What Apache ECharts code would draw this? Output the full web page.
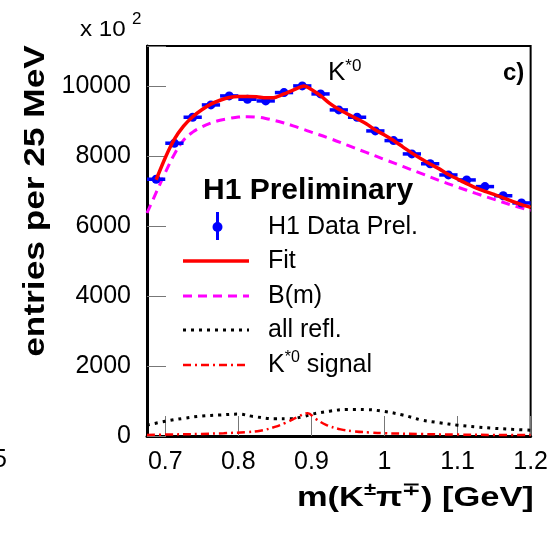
<!DOCTYPE html>
<html>
<head>
<meta charset="utf-8">
<script src="https://cdn.jsdelivr.net/npm/echarts@6/dist/echarts.min.js"></script>
<style>
  html, body { margin: 0; padding: 0; background: #fff; }
  #chart { width: 551px; height: 533px; }
</style>
</head>
<body>
<div id="chart"></div>
<script>
// K*0 mass spectrum: data points, fit and its components (entries in units of 10^2)

// measured histogram: bin centres [GeV], entries, statistical errors
const massBins = [0.6875, 0.7125, 0.7375, 0.7625, 0.7875, 0.8125, 0.8375, 0.8625, 0.8875, 0.9125,
                  0.9375, 0.9625, 0.9875, 1.0125, 1.0375, 1.0625, 1.0875, 1.1125, 1.1375, 1.1625, 1.1875];
const entries  = [7334, 8363, 9105, 9457, 9714, 9619, 9571, 9810, 10000, 9771,
                  9314, 9105, 8714, 8438, 8057, 7776, 7457, 7314, 7124, 6862, 6657];
const entryErr = [90, 95, 95, 100, 100, 100, 100, 100, 100, 100,
                  95, 95, 95, 95, 90, 90, 90, 90, 85, 85, 85];
const binHalfWidth = 0.0125;

// total fit
const fitMass  = [0.6875, 0.70, 0.7125, 0.725, 0.7375, 0.75, 0.7625, 0.775, 0.7875, 0.80, 0.8125, 0.825,
                  0.8375, 0.85, 0.8625, 0.875, 0.89, 0.90, 0.9125, 0.925, 0.9375, 0.95, 0.9625,
                  0.975, 0.9875, 1.0, 1.0125, 1.025, 1.0375, 1.05, 1.0625, 1.075, 1.0875, 1.10, 1.1125,
                  1.125, 1.1375, 1.15, 1.1625, 1.175, 1.1875, 1.2];
const fitValue = [7320, 7950, 8480, 8850, 9120, 9320, 9480, 9590, 9670, 9700, 9700, 9690,
                  9660, 9670, 9770, 9880, 10000, 9900, 9720, 9500, 9330, 9190, 9060,
                  8920, 8740, 8600, 8440, 8260, 8080, 7920, 7770, 7630, 7470, 7340, 7210,
                  7090, 6990, 6900, 6800, 6700, 6610, 6530];

// background shape B(m)
const bgMass  = [0.675, 0.6875, 0.70, 0.7125, 0.725, 0.7375, 0.75, 0.7625, 0.775, 0.7875, 0.80, 0.8125,
                 0.825, 0.8375, 0.85, 0.8625, 0.875, 0.8875, 0.90, 0.925, 0.95, 0.975, 1.0, 1.025,
                 1.05, 1.075, 1.10, 1.125, 1.15, 1.175, 1.2];
const bgValue = [6370, 6950, 7520, 8050, 8450, 8680, 8830, 8940, 9020, 9070, 9110, 9120,
                 9110, 9070, 9010, 8940, 8860, 8770, 8680, 8500, 8300, 8100, 7900, 7700,
                 7500, 7300, 7110, 6930, 6760, 6590, 6440];

// sum of reflections
const reflMass  = [0.675, 0.70, 0.725, 0.75, 0.775, 0.80, 0.82, 0.85, 0.87, 0.89, 0.90, 0.925,
                   0.95, 0.975, 1.0, 1.025, 1.05, 1.075, 1.10, 1.125, 1.15, 1.175, 1.2];
const reflValue = [310, 420, 505, 570, 600, 625, 560, 490, 490, 560, 620, 710,
                   760, 755, 700, 600, 460, 380, 310, 260, 220, 190, 165];

// K*0 signal
const sigMass  = [0.675, 0.70, 0.75, 0.78, 0.81, 0.83, 0.85, 0.865, 0.88, 0.895, 0.905, 0.92,
                  0.94, 0.96, 0.98, 1.0, 1.05, 1.10, 1.15, 1.2];
const sigValue = [30, 40, 60, 80, 110, 150, 260, 380, 530, 650, 500, 320,
                  190, 130, 100, 80, 55, 40, 30, 25];

// axis ticks
const xTicks = [0.7, 0.8, 0.9, 1.0, 1.1, 1.2];
const yMax = 11140;
const yStep = 2000;

const FONT = '"Liberation Sans", Arial, Helvetica, sans-serif';
const zip = (xs, ys) => xs.map((x, i) => [x, ys[i]]);

const chart = echarts.init(document.getElementById('chart'), null, { renderer: 'canvas' });

const legendX0 = 183, legendX1 = 249, legendTextX = 268;

chart.setOption({
  animation: false,
  backgroundColor: '#ffffff',
  grid: {
    left: 147, right: 14, top: 46, bottom: 97,
    show: true, borderColor: '#000', borderWidth: 2, backgroundColor: 'transparent'
  },
  xAxis: {
    type: 'value',
    min: 0.675, max: 1.2,
    splitLine: { show: false },
    axisLine: { lineStyle: { color: '#000', width: 3 } },
    axisTick: { inside: true, length: 20, lineStyle: { color: '#777', width: 1 }, customValues: xTicks },
    axisLabel: {
      customValues: xTicks, margin: 14, color: '#000', fontSize: 25, fontFamily: FONT,
      formatter: v => String(Math.round(v * 10) / 10)
    }
  },
  yAxis: {
    type: 'value',
    min: 0, max: yMax, interval: yStep,
    splitLine: { show: false },
    axisLine: { lineStyle: { color: '#000', width: 3 } },
    axisTick: { inside: true, length: 19, lineStyle: { color: '#777', width: 1 } },
    axisLabel: {
      margin: 16, color: '#000', fontSize: 25, fontFamily: FONT,
      formatter: v => (v % yStep === 0 ? String(v) : '')
    }
  },
  series: [
    {
      name: 'B(m)', type: 'line', data: zip(bgMass, bgValue), smooth: 0.4, symbol: 'none',
      lineStyle: { color: '#ff00ff', width: 3, type: [9, 6] }, z: 2
    },
    {
      name: 'all refl.', type: 'line', data: zip(reflMass, reflValue), smooth: 0.4, symbol: 'none',
      lineStyle: { color: '#000', width: 3, type: [3, 5] }, z: 2
    },
    {
      name: 'K*0 signal', type: 'line', data: zip(sigMass, sigValue), smooth: 0.4, symbol: 'none',
      lineStyle: { color: '#ff0000', width: 2.5, type: [8, 4, 2, 4] }, z: 2
    },
    {
      name: 'H1 Data Prel.', type: 'custom', z: 3,
      data: massBins.map((m, i) => [m, entries[i], entryErr[i]]),
      renderItem: (params, api) => {
        const m = api.value(0), v = api.value(1), e = api.value(2);
        const c = api.coord([m, v]);
        const l = api.coord([m - binHalfWidth, v]);
        const r = api.coord([m + binHalfWidth, v]);
        const t = api.coord([m, v + e]);
        const b = api.coord([m, v - e]);
        const style = { stroke: '#0000ff', lineWidth: 3.5 };
        return {
          type: 'group',
          children: [
            { type: 'line', shape: { x1: l[0], y1: l[1], x2: r[0], y2: r[1] }, style },
            { type: 'line', shape: { x1: t[0], y1: t[1], x2: b[0], y2: b[1] }, style },
            { type: 'circle', shape: { cx: c[0], cy: c[1], r: 4.5 }, style: { fill: '#0000ff' } }
          ]
        };
      }
    },
    {
      name: 'Fit', type: 'line', data: zip(fitMass, fitValue), smooth: 0.25, symbol: 'none',
      lineStyle: { color: '#ff0000', width: 3.5 }, z: 4
    }
  ],
  graphic: [
    // axis multiplier
    { type: 'text', x: 80, y: 30, scaleX: 1.1, style: { text: 'x 10', font: '22px ' + FONT, fill: '#000', verticalAlign: 'middle' } },
    { type: 'text', x: 132, y: 19, style: { text: '2', font: '17px ' + FONT, fill: '#000', verticalAlign: 'middle' } },
    // axis titles
    {
      type: 'text', x: 36, y: 201, rotation: Math.PI / 2, scaleX: 1.175,
      style: { text: 'entries per 25 MeV', font: 'bold 30px ' + FONT, fill: '#000', align: 'center', verticalAlign: 'middle' }
    },
    {
      type: 'text', x: 297, y: 498, scaleX: 1.23,
      style: {
        text: '{a|m(K}{s|±}{a|π}{s|∓}{a|) [GeV]}', fill: '#000', verticalAlign: 'middle',
        rich: {
          a: { font: 'bold 28px ' + FONT, fill: '#000', lineHeight: 34 },
          s: { font: 'bold 18px ' + FONT, fill: '#000', verticalAlign: 'top', lineHeight: 34 }
        }
      }
    },
    // neighbouring tick label at the left edge
    { type: 'text', x: -7, y: 460, style: { text: '5', font: '25px ' + FONT, fill: '#000', verticalAlign: 'middle' } },
    // panel labels
    {
      type: 'text', x: 328, y: 73,
      style: {
        text: '{k|K}{s|*0}', verticalAlign: 'middle',
        rich: {
          k: { font: '26px ' + FONT, fill: '#000', lineHeight: 30 },
          s: { font: '17px ' + FONT, fill: '#000', verticalAlign: 'top', lineHeight: 30 }
        }
      }
    },
    { type: 'text', x: 503, y: 73, style: { text: 'c)', font: 'bold 24px ' + FONT, fill: '#000', verticalAlign: 'middle' } },
    // legend
    { type: 'text', x: 203, y: 191, style: { text: 'H1 Preliminary', font: 'bold 30px ' + FONT, fill: '#000', verticalAlign: 'middle' } },
    { type: 'line', shape: { x1: 217.5, y1: 212, x2: 217.5, y2: 240 }, style: { stroke: '#0000ff', lineWidth: 3 } },
    { type: 'circle', shape: { cx: 217.5, cy: 227, r: 5 }, style: { fill: '#0000ff' } },
    { type: 'text', x: legendTextX, y: 227, style: { text: 'H1 Data Prel.', font: '25px ' + FONT, fill: '#000', verticalAlign: 'middle' } },
    { type: 'line', shape: { x1: legendX0, y1: 261, x2: legendX1, y2: 261 }, style: { stroke: '#ff0000', lineWidth: 3.5 } },
    { type: 'text', x: legendTextX, y: 261, style: { text: 'Fit', font: '25px ' + FONT, fill: '#000', verticalAlign: 'middle' } },
    { type: 'line', shape: { x1: legendX0, y1: 296, x2: legendX1, y2: 296 }, style: { stroke: '#ff00ff', lineWidth: 3, lineDash: [9, 6] } },
    { type: 'text', x: legendTextX, y: 296, style: { text: 'B(m)', font: '25px ' + FONT, fill: '#000', verticalAlign: 'middle' } },
    { type: 'line', shape: { x1: legendX0, y1: 330, x2: legendX1, y2: 330 }, style: { stroke: '#000', lineWidth: 3, lineDash: [3, 5] } },
    { type: 'text', x: legendTextX, y: 330, style: { text: 'all refl.', font: '25px ' + FONT, fill: '#000', verticalAlign: 'middle' } },
    { type: 'line', shape: { x1: legendX0, y1: 365, x2: legendX1, y2: 365 }, style: { stroke: '#ff0000', lineWidth: 2.5, lineDash: [8, 4, 2, 4] } },
    {
      type: 'text', x: legendTextX, y: 365,
      style: {
        text: '{k|K}{s|*0}{k| signal}', verticalAlign: 'middle',
        rich: {
          k: { font: '25px ' + FONT, fill: '#000', lineHeight: 30 },
          s: { font: '16px ' + FONT, fill: '#000', verticalAlign: 'top', lineHeight: 30 }
        }
      }
    }
  ]
});
</script>
</body>
</html>
